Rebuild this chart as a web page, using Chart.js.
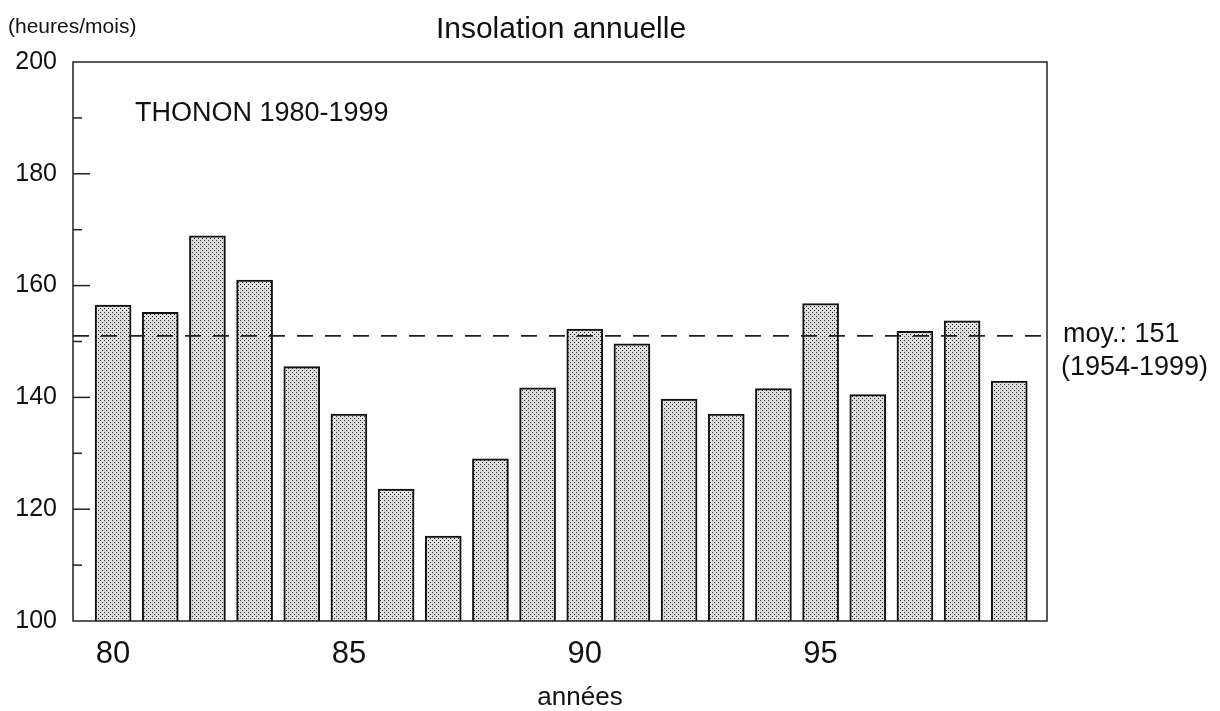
<!DOCTYPE html>
<html lang="fr">
<head>
    <meta charset="UTF-8">
    <title>Insolation annuelle</title>
    <script src="https://cdn.jsdelivr.net/npm/chart.js@4.4.1/dist/chart.umd.min.js"></script>
    <style>
        body {
            margin: 0;
            background-color: #fff;
        }
    </style>
</head>
<body>
    <canvas id="insolationChart" width="1220" height="711"></canvas>
    <script>
        // Data
        const years = [1980, 1981, 1982, 1983, 1984, 1985, 1986, 1987, 1988, 1989,
                       1990, 1991, 1992, 1993, 1994, 1995, 1996, 1997, 1998, 1999];
        const insolation = [156.5, 155.2, 168.9, 161.0, 145.5, 137.0, 123.6, 115.2, 129.0, 141.7,
                            152.2, 149.6, 139.7, 137.0, 141.6, 156.8, 140.5, 151.8, 153.7, 142.9];
        const meanValue = 151;
        const xTickYears = [1980, 1985, 1990, 1995];
        const yMin = 100;
        const yMax = 200;
        const xMin = 1979.15;
        const xMax = 1999.8;

        const FONT = '"Liberation Sans", Arial, sans-serif';

        // dotted grey fill like the printed original
        function makeDotPattern() {
            const c = document.createElement('canvas');
            c.width = 4;
            c.height = 4;
            const g = c.getContext('2d');
            g.fillStyle = '#dedede';
            g.fillRect(0, 0, 4, 4);
            g.fillStyle = '#222222';
            g.fillRect(0, 0, 1, 1);
            g.fillRect(2, 2, 1, 1);
            return g.createPattern(c, 'repeat');
        }

        const ctx = document.getElementById('insolationChart').getContext('2d');

        // frame, inward y ticks and free texts
        const decorations = {
            id: 'decorations',
            afterDatasetsDraw(chart) {
                const { ctx, chartArea } = chart;
                const yScale = chart.scales.y;
                ctx.save();
                ctx.strokeStyle = '#222';
                ctx.lineWidth = 1.5;
                ctx.strokeRect(chartArea.left, chartArea.top,
                    chartArea.right - chartArea.left, chartArea.bottom - chartArea.top);
                for (let v = yMin + 10; v < yMax; v += 10) {
                    const py = yScale.getPixelForValue(v);
                    const len = v % 20 === 0 ? 17 : 9;
                    ctx.beginPath();
                    ctx.moveTo(chartArea.left, py);
                    ctx.lineTo(chartArea.left + len, py);
                    ctx.stroke();
                }
                ctx.restore();
            },
            afterDraw(chart) {
                const { ctx } = chart;
                ctx.save();
                ctx.fillStyle = '#111';
                ctx.textBaseline = 'alphabetic';

                ctx.font = '30px ' + FONT;
                ctx.textAlign = 'center';
                ctx.fillText('Insolation annuelle', 561, 38);

                ctx.font = '26px ' + FONT;
                ctx.fillText('années', 580, 705);

                ctx.textAlign = 'left';
                ctx.font = '21px ' + FONT;
                ctx.fillText('(heures/mois)', 8, 33);

                ctx.font = '27px ' + FONT;
                ctx.fillText('THONON 1980-1999', 135, 121);
                ctx.fillText('moy.: 151', 1063, 342);
                ctx.fillText('(1954-1999)', 1061, 375);
                ctx.restore();
            }
        };

        const chart = new Chart(ctx, {
            data: {
                datasets: [
                    {
                        type: 'line',
                        data: [{ x: xMin, y: meanValue }, { x: xMax, y: meanValue }],
                        borderColor: '#222',
                        borderWidth: 1.6,
                        borderDash: [16, 12],
                        pointRadius: 0,
                        fill: false,
                        order: 0
                    },
                    {
                        type: 'bar',
                        data: years.map((yr, i) => ({ x: yr, y: insolation[i] })),
                        backgroundColor: makeDotPattern(),
                        borderColor: '#111',
                        borderWidth: 2,
                        barThickness: 36,
                        order: 1
                    }
                ]
            },
            options: {
                responsive: false,
                animation: false,
                layout: {
                    padding: { left: 0, top: 62, right: 173, bottom: 0 }
                },
                scales: {
                    x: {
                        type: 'linear',
                        min: xMin,
                        max: xMax,
                        offset: false,
                        grid: { display: false, drawTicks: false, offset: false },
                        border: { display: false },
                        afterBuildTicks: (scale) => {
                            scale.ticks = xTickYears.map(v => ({ value: v }));
                        },
                        afterFit: (scale) => { scale.height = 90; },
                        ticks: {
                            autoSkip: false,
                            maxRotation: 0,
                            padding: 15,
                            color: '#111',
                            font: { family: FONT, size: 31 },
                            callback: (v) => String(v % 100)
                        }
                    },
                    y: {
                        min: yMin,
                        max: yMax,
                        grid: { display: false, drawTicks: false },
                        border: { display: false },
                        afterFit: (scale) => { scale.width = 73; },
                        ticks: {
                            stepSize: 10,
                            padding: 16,
                            color: '#111',
                            font: { family: FONT, size: 25 },
                            callback: (v) => (v % 20 === 0 ? v : '')
                        }
                    }
                },
                plugins: {
                    legend: { display: false },
                    tooltip: { enabled: false },
                    title: { display: false }
                }
            },
            plugins: [decorations]
        });
    </script>
</body>
</html>
